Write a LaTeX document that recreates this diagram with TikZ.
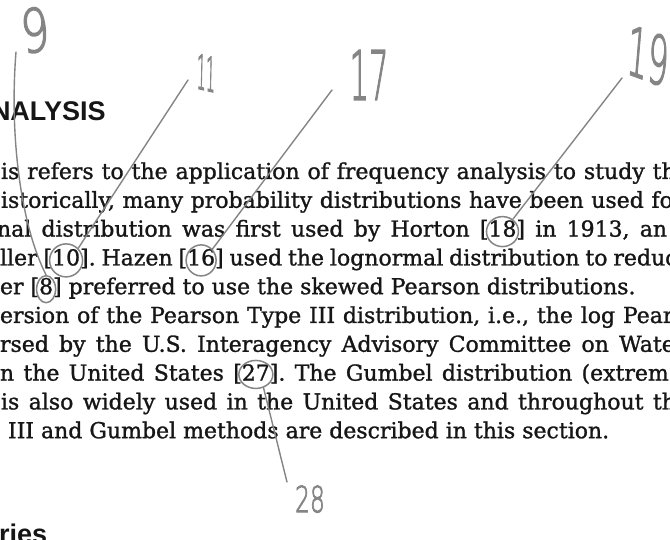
\documentclass[tikz,border=0pt]{standalone}
\usepackage{fontspec}
\setmainfont{DejaVu Serif}[FakeBold=1.2]
\newfontfamily\headfont{Liberation Sans}
\newfontfamily\handfont{DejaVuSans-ExtraLight.ttf}[FakeBold=2.5]
\usetikzlibrary{shapes.geometric}
\definecolor{ink}{HTML}{161616}
\definecolor{pencil}{HTML}{858585}
\newcommand\bodysize{\fontsize{22}{26}\selectfont\frenchspacing}
\newcommand\hnd[1]{\handfont\fontsize{#1}{#1}\selectfont}
\newcommand\sk[1]{\spaceskip=#1pt plus 0pt\relax}
\begin{document}
\begin{tikzpicture}[x=1pt,y=-1pt,
  txt/.style={anchor=base west, inner sep=0pt, outer sep=0pt, text=ink, font=\bodysize},
  head/.style={anchor=base west, inner sep=0pt, outer sep=0pt, text=ink, font=\headfont\bfseries\fontsize{27}{27}\selectfont},
  hand/.style={inner sep=0pt, outer sep=0pt, text=pencil, transform shape},
  ring/.style={ellipse, draw=pencil, line width=1.5pt, inner sep=0pt},
  pen/.style={draw=pencil, line width=1.4pt, line cap=round}]
\useasboundingbox (0,0) rectangle (670,540);
\clip (0,0) rectangle (670,540);
\fill[white] (0,0) rectangle (670,540);

% printed text
\node[head] (hd) at (-9,121) {NALYSIS};
\node[txt] (t1) at (1,179) {\sk{7.9}is refers to the application of frequency analysis to study th};
\node[txt] (t2) at (1,207.8) {\sk{7.6}istorically, many probability distributions have been used fo};
\node[txt] (t3a) at (-3,236.6) {\sk{10.2}nal distribution was first used by Horton [};
\node[txt] (n18) at (t3a.base east) {18};
\node[txt] (t3b) at (n18.base east) {\sk{10.2}] in 1913, an};
\node[txt] (t4a) at (0,265.4) {\sk{5.9}ller [};
\node[txt] (n10) at (t4a.base east) {10};
\node[txt] (t4b) at (n10.base east) {\sk{5.9}]. Hazen [};
\node[txt] (n16) at (t4b.base east) {16};
\node[txt] (t4c) at (n16.base east) {\sk{5.9}] used the lognormal distribution to reduc};
\node[txt] (t5a) at (0,294.2) {er [};
\node[txt] (n8) at (t5a.base east) {8};
\node[txt] (t5b) at (n8.base east) {] preferred to use the skewed Pearson distributions.};
\node[txt] (t6) at (0,323) {\sk{7.8}ersion of the Pearson Type III distribution, i.e., the log Pear};
\node[txt] (t7) at (0,351.8) {\sk{10.2}rsed by the U.S. Interagency Advisory Committee on Wate};
\node[txt] (t8a) at (0,380.6) {\sk{9.3}n the United States [};
\node[txt] (n27) at (t8a.base east) {27};
\node[txt] (t8b) at (n27.base east) {\sk{9.3}]. The Gumbel distribution (extrem};
\node[txt] (t9) at (1,409.4) {\sk{9.4}is also widely used in the United States and throughout th};
\node[txt] (t10) at (8,438.2) {III and Gumbel methods are described in this section.};
\node[head] (rs) at (-1,543) {ries};

% pencil circles
\node[ring, minimum width=33pt, minimum height=33pt] (c10) at ([yshift=-3pt]n10.center) {};
\node[ring, minimum width=30pt, minimum height=31pt] (c16) at ([yshift=-3pt]n16.center) {};
\node[ring, minimum width=32pt, minimum height=30pt] (c18) at ([yshift=-3pt]n18.center) {};
\node[ring, minimum width=19pt, minimum height=27pt] (c8) at ([yshift=-3pt]n8.center) {};
\node[ring, minimum width=34pt, minimum height=28pt] (c27) at ([yshift=-2pt]n27.center) {};

% pencil numbers
\begin{scope}[shift={(35,30)}]
  \node[hand, font=\hnd{60}, xscale=.75, rotate=8] (h9) at (0,0) {9};
\end{scope}
\begin{scope}[shift={(206,73)}]
  \node[hand, font=\hnd{48}, xscale=.3, rotate=-4] (h11) at (0,0) {11};
\end{scope}
\begin{scope}[shift={(369,75)}]
  \node[hand, font=\hnd{68}, xscale=.45] (h17) at (0,0) {17};
\end{scope}
\begin{scope}[shift={(648,56)}]
  \node[hand, font=\hnd{68}, xscale=.48, rotate=-10] (h19) at (0,0) {19};
\end{scope}
\begin{scope}[shift={(310,499)}]
  \node[hand, font=\hnd{36}, xscale=.65] (h28) at (0,0) {28};
\end{scope}

% pencil connectors
\coordinate (p9) at (16,52);
\coordinate (p11) at (188,80);
\coordinate (p17) at (332,90);
\coordinate (p19) at (622,78);
\coordinate (p28) at (287,482);
\draw[pen] (p9) .. controls (9,140) and (22,228) .. (c8.north);
\draw[pen] (p11) -- (c10.45);
\draw[pen] (p17) -- (c16.45);
\draw[pen] (p19) -- (c18.50);
\draw[pen] (c27.300) -- (p28);
\end{tikzpicture}
\end{document}
